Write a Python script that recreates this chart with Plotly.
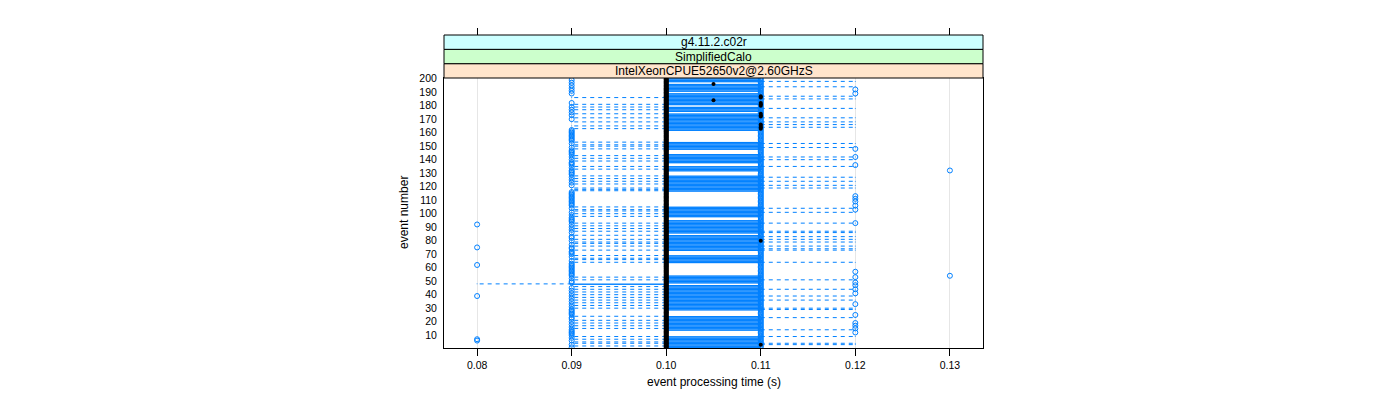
import plotly.graph_objects as go

BLUE = "#0080ff"

# ---------------- data ----------------
events = list(range(1, 201))

# events whose box collapses to the median (no box drawn)
flat_box_events = [10, 11, 12, 13, 25, 26, 27, 28, 48, 55, 56, 57, 58, 59, 60, 61, 62, 63,
                   70, 71, 72, 85, 96, 97, 106, 107, 108, 109, 110, 111, 112, 113, 114, 115, 116,
                   129, 130, 131, 136, 137, 145, 146, 147, 154, 155, 156, 157, 158, 159, 160, 161,
                   175, 180, 190, 197]
box_lower_time = 0.10
box_upper_time = 0.11
low_hinge_events = [48]
low_hinge_times = [0.09]

lower_whisker_events = [2, 4, 5, 7, 9, 15, 17, 19, 21, 24, 30, 32, 34, 36, 38, 40, 42, 44, 46, 48,
                        51, 53, 64, 66, 67, 69, 73, 76, 78, 79, 81, 84, 87, 89, 91, 93, 98, 100,
                        102, 103, 105, 117, 118, 119, 122, 124, 126, 128, 133, 135, 139, 141, 143,
                        148, 150, 151, 153, 163, 165, 168, 171, 174, 177, 179, 181, 186]
lower_whisker_times = [0.09] * 19 + [0.08] + [0.09] * 46

upper_whisker_events = [3, 4, 9, 14, 23, 29, 30, 36, 39, 44, 51, 64, 73, 74, 76, 79, 81, 83, 86, 87,
                        93, 101, 104, 119, 121, 124, 127, 135, 140, 142, 149, 152, 164, 166, 168,
                        171, 178, 185, 187, 194, 198]
upper_whisker_time = 0.12

median_time = 0.10
extra_dot_events = [3, 80, 163, 164, 165, 166, 172, 173, 174, 180, 181, 182, 184, 186, 187, 196]
extra_dot_times = [0.11, 0.11, 0.11, 0.11, 0.11, 0.11, 0.11, 0.11, 0.11, 0.11, 0.11, 0.11, 0.105,
                   0.11, 0.11, 0.105]

outliers_008 = [6, 7, 39, 62, 75, 92]
outliers_009 = ([e for e in range(1, 163) if e not in lower_whisker_events and e not in (47, 85, 120)]
                + [170, 173, 175, 177, 179, 182, 189, 191, 193, 195, 197, 199])
outliers_011 = list(range(1, 201))
outliers_012 = [12, 15, 17, 19, 25, 33, 41, 44, 47, 49, 53, 57, 93, 103, 106, 109, 111, 113,
                136, 142, 148, 189, 192]
outliers_013 = [54, 132]

x_ticks = [0.08, 0.09, 0.10, 0.11, 0.12, 0.13]
x_tick_labels = ["0.08", "0.09", "0.10", "0.11", "0.12", "0.13"]
y_ticks = [10, 20, 30, 40, 50, 60, 70, 80, 90, 100, 110, 120, 130, 140, 150, 160, 170, 180, 190, 200]
strip_labels = ["IntelXeonCPUE52650v2@2.60GHzS", "SimplifiedCalo", "g4.11.2.c02r"]
strip_colors = ["#ffe5cc", "#ccffcc", "#ccffff"]

# ---------------- per-event statistics table ----------------
q1 = {e: box_lower_time for e in events}
q3 = {e: (box_lower_time if e in flat_box_events else box_upper_time) for e in events}
for e, t in zip(low_hinge_events, low_hinge_times):
    q1[e] = t

H = 0.25  # half box height (box.ratio = 1)

box_x, box_y = [], []
for e in events:
    if q3[e] > q1[e]:
        box_x += [q1[e], q3[e], q3[e], q1[e], q1[e], None]
        box_y += [e - H, e - H, e + H, e + H, e - H, None]

wh_x, wh_y, cap_x, cap_y = [], [], [], []
for e, t in zip(lower_whisker_events, lower_whisker_times):
    wh_x += [q1[e], t, None]
    wh_y += [e, e, None]
    cap_x += [t, t, None]
    cap_y += [e - H, e + H, None]
for e in upper_whisker_events:
    wh_x += [q3[e], upper_whisker_time, None]
    wh_y += [e, e, None]
    cap_x += [upper_whisker_time, upper_whisker_time, None]
    cap_y += [e - H, e + H, None]

out_x, out_y = [], []
for t, evs in [(0.08, outliers_008), (0.09, outliers_009), (0.11, outliers_011),
               (0.12, outliers_012), (0.13, outliers_013)]:
    out_x += [t] * len(evs)
    out_y += list(evs)

fig = go.Figure()
fig.add_trace(go.Scatter(x=box_x, y=box_y, mode="lines", line=dict(color=BLUE, width=1),
                         hoverinfo="skip", connectgaps=False))
fig.add_trace(go.Scatter(x=wh_x, y=wh_y, mode="lines",
                         line=dict(color=BLUE, width=1, dash="4px,4px"),
                         hoverinfo="skip", connectgaps=False))
fig.add_trace(go.Scatter(x=cap_x, y=cap_y, mode="lines", line=dict(color=BLUE, width=1),
                         hoverinfo="skip", connectgaps=False))
fig.add_trace(go.Scatter(x=out_x, y=out_y, mode="markers",
                         marker=dict(symbol="circle-open", size=5, color=BLUE,
                                     line=dict(width=1, color=BLUE))))
fig.add_trace(go.Scatter(x=extra_dot_times, y=extra_dot_events, mode="markers",
                         marker=dict(symbol="circle", size=4, color="black")))
fig.add_trace(go.Scatter(x=[median_time] * len(events), y=events, mode="markers",
                         marker=dict(symbol="circle", size=5, color="black")))
# carrier for the top tick axis
fig.add_trace(go.Scatter(x=[None], y=[None], xaxis="x2", yaxis="y", hoverinfo="skip"))

# page body has an 8px offset, so figure coordinates = screen coordinates - 8
OFF = 8
FIG_TOP = 35 - OFF
PANEL_TOP = 78 - OFF
PANEL_BOTTOM = 348 - OFF
PANEL_LEFT = 444 - OFF
PANEL_RIGHT = 983 - OFF
area_h = PANEL_BOTTOM - FIG_TOP
panel_w = PANEL_RIGHT - PANEL_LEFT
panel_frac = (PANEL_BOTTOM - PANEL_TOP) / area_h
strip_h = (1 - panel_frac) / 3

x_range = [0.0765, 0.1335]

fig.update_layout(
    width=1400, height=400,
    margin=dict(l=PANEL_LEFT, r=1400 - PANEL_RIGHT, t=FIG_TOP, b=400 - PANEL_BOTTOM, pad=0),
    paper_bgcolor="white", plot_bgcolor="white",
    showlegend=False,
    font=dict(family="Liberation Sans, Arial, Helvetica, sans-serif", size=10.5, color="black"),
    xaxis=dict(range=x_range, tickvals=x_ticks, ticktext=x_tick_labels, ticks="outside",
               ticklen=7, tickcolor="black", tickwidth=1, showline=True, linecolor="black",
               linewidth=1, mirror=True, showgrid=True, gridcolor="#e6e6e6", gridwidth=1,
               zeroline=False, anchor="y", domain=[0, 1]),
    xaxis2=dict(range=x_range, tickvals=x_ticks, ticks="outside", ticklen=7, tickcolor="black",
                tickwidth=1, showticklabels=False, showline=False, showgrid=False,
                zeroline=False, overlaying="x", side="top", anchor="free", position=1),
    yaxis=dict(range=[0.5, 200.5], tickvals=y_ticks, ticktext=[str(v) for v in y_ticks],
               ticks="outside", ticklen=4, tickcolor="rgba(0,0,0,0)", showline=True,
               linecolor="black", linewidth=1, mirror=True, showgrid=False, zeroline=False,
               domain=[0, panel_frac]),
)

shapes = []
annotations = []
for i, (lab, col) in enumerate(zip(strip_labels, strip_colors)):
    y0 = panel_frac + i * strip_h
    y1 = y0 + strip_h
    shapes.append(dict(type="rect", xref="paper", yref="paper", x0=0, x1=1, y0=y0, y1=y1,
                       fillcolor=col, line=dict(color="black", width=1), layer="above"))
    annotations.append(dict(text=lab, xref="paper", yref="paper", x=0.5, y=(y0 + y1) / 2,
                            xanchor="center", yanchor="middle", showarrow=False,
                            font=dict(size=12, color="black")))

annotations.append(dict(text="event processing time (s)", xref="paper", yref="paper",
                        x=0.5, y=(PANEL_BOTTOM - (382 - OFF)) / area_h, xanchor="center",
                        yanchor="middle", showarrow=False, font=dict(size=12)))
annotations.append(dict(text="event number", xref="paper", yref="paper",
                        x=((404 - OFF) - PANEL_LEFT) / panel_w, y=(PANEL_BOTTOM - (213 - OFF)) / area_h,
                        xanchor="center", yanchor="middle", textangle=-90, showarrow=False,
                        font=dict(size=12)))
fig.update_layout(shapes=shapes, annotations=annotations)

fig.write_html("out.html")
